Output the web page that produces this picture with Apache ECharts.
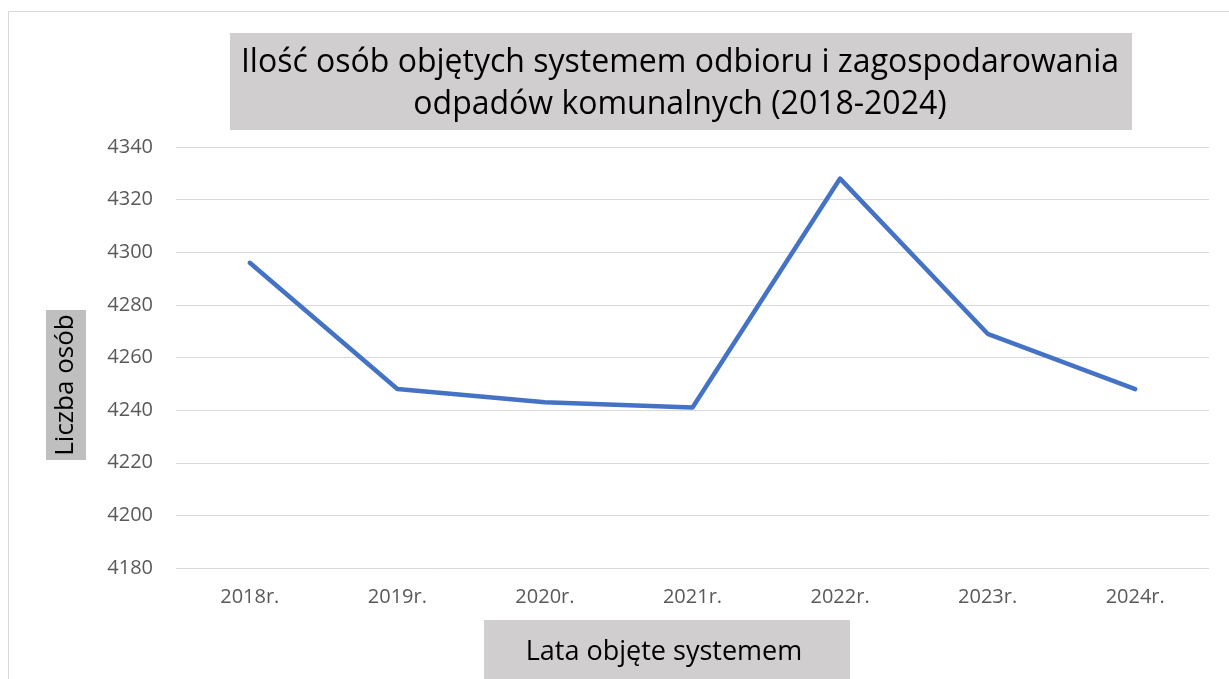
<!DOCTYPE html>
<html>
<head>
<meta charset="utf-8">
<script src="https://cdn.jsdelivr.net/npm/echarts@6/dist/echarts.min.js"></script>
<style>
  html, body { margin: 0; padding: 0; background: #fff; }
  #chart { width: 1229px; height: 679px; }
</style>
</head>
<body>
<div id="chart"></div>
<script>
// dane do wykresu
const years = ["2018r.", "2019r.", "2020r.", "2021r.", "2022r.", "2023r.", "2024r."];
const persons = [4296, 4248, 4243, 4241, 4328, 4269, 4248];
const yTicks = { min: 4180, max: 4340, step: 20 };

const titleText = "Ilość osób objętych systemem odbioru i zagospodarowania\nodpadów komunalnych (2018-2024)";
const yName = "Liczba osób";
const xName = "Lata objęte systemem";

const FONT = "'Open Sans', sans-serif";

const chart = echarts.init(document.getElementById("chart"));

const option = {
  backgroundColor: "#fff",
  animation: false,
  grid: { left: 176, right: 20, top: 147, bottom: 111 },
  xAxis: {
    type: "category",
    data: years,
    boundaryGap: true,
    axisLine: { show: false },
    axisTick: { show: false },
    axisLabel: { color: "#595959", fontSize: 20, fontFamily: FONT, margin: 19 },
  },
  yAxis: {
    type: "value",
    min: yTicks.min,
    max: yTicks.max,
    interval: yTicks.step,
    axisLine: { show: false },
    axisTick: { show: false },
    axisLabel: {
      color: "#595959",
      fontSize: 20,
      fontFamily: FONT,
      margin: 23,
      formatter: (v) => String(v),
    },
    splitLine: { lineStyle: { color: "#d9d9d9", width: 1 } },
  },
  series: [
    {
      type: "line",
      data: persons,
      symbol: "none",
      lineStyle: { color: "#4472c4", width: 4.5, cap: "round", join: "round" },
    },
  ],
  graphic: [
    // ramka wykresu
    {
      type: "rect",
      shape: { x: 8.5, y: 11.5, width: 1240, height: 700 },
      style: { fill: "none", stroke: "#d9d9d9", lineWidth: 1 },
      silent: true,
    },
    // tytuł
    {
      type: "rect",
      shape: { x: 230, y: 33, width: 902, height: 97 },
      style: { fill: "#d0cece" },
      silent: true,
    },
    {
      type: "text",
      x: 680,
      y: 84,
      style: {
        text: titleText,
        font: "32px " + FONT,
        fill: "#000",
        align: "center",
        verticalAlign: "middle",
        lineHeight: 42,
      },
      silent: true,
    },
    // nazwa osi Y
    {
      type: "rect",
      shape: { x: 46, y: 310, width: 40, height: 150 },
      style: { fill: "#bfbfbf" },
      silent: true,
    },
    {
      type: "text",
      x: 66,
      y: 385,
      rotation: Math.PI / 2,
      style: {
        text: yName,
        font: "26px " + FONT,
        fill: "#000",
        align: "center",
        verticalAlign: "middle",
      },
      silent: true,
    },
    // nazwa osi X
    {
      type: "rect",
      shape: { x: 484, y: 620, width: 366, height: 70 },
      style: { fill: "#d0cece" },
      silent: true,
    },
    {
      type: "text",
      x: 664,
      y: 652,
      style: {
        text: xName,
        font: "27px " + FONT,
        fill: "#000",
        align: "center",
        verticalAlign: "middle",
      },
      silent: true,
    },
  ],
};

chart.setOption(option);
</script>
</body>
</html>
